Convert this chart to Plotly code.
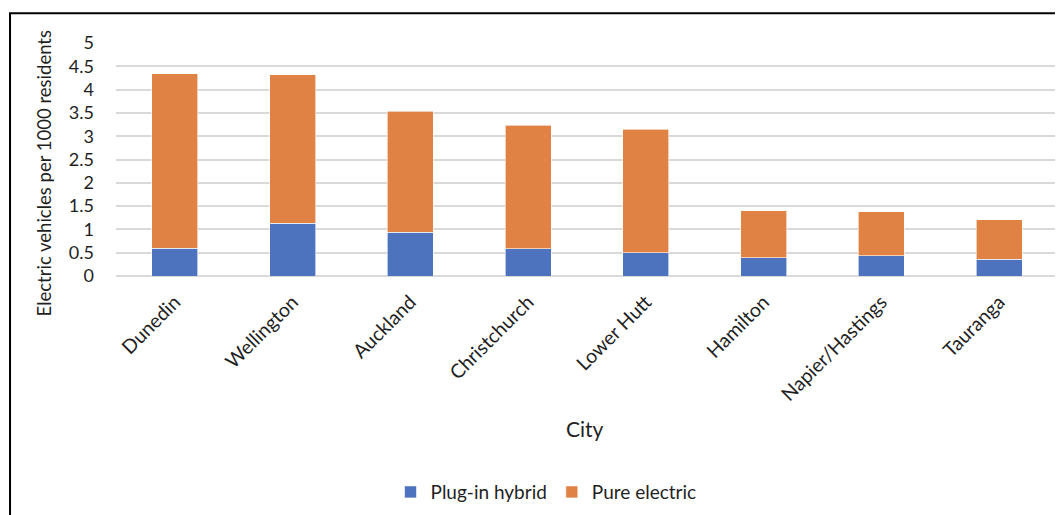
import plotly.graph_objects as go

cities = ["Dunedin", "Wellington", "Auckland", "Christchurch", "Lower Hutt",
          "Hamilton", "Napier/Hastings", "Tauranga"]
plug_in_hybrid = [0.60, 1.13, 0.94, 0.58, 0.50, 0.39, 0.43, 0.36]
pure_electric = [3.74, 3.19, 2.60, 2.66, 2.65, 1.01, 0.95, 0.85]
y_ticks = [0, 0.5, 1, 1.5, 2, 2.5, 3, 3.5, 4, 4.5, 5]
y_tick_labels = ["0", "0.5", "1", "1.5", "2", "2.5", "3", "3.5", "4", "4.5", "5"]

FONT = "Lato"
TXT = "#1F1F1F"

fig = go.Figure()
fig.add_trace(go.Bar(x=cities, y=plug_in_hybrid, name="Plug-in hybrid",
                     marker=dict(color="#4E73BE", line=dict(color="#FFFFFF", width=0.6))))
fig.add_trace(go.Bar(x=cities, y=pure_electric, name="Pure electric",
                     marker=dict(color="#E08244", line=dict(color="#FFFFFF", width=0.6))))

# page body adds an 8px margin, so the figure is sized/offset to compensate
fig.update_layout(
    barmode="stack",
    bargap=0.61,
    width=1055, height=507,
    margin=dict(l=108, r=5, t=35, b=238),
    plot_bgcolor="white", paper_bgcolor="white",
    font=dict(family=FONT, size=16, color=TXT),
    showlegend=True,
    legend=dict(orientation="h", x=0.4565, xanchor="center", y=-0.919, yanchor="middle",
                font=dict(size=19, color=TXT), traceorder="normal", itemwidth=30),
    xaxis=dict(tickangle=-45, showgrid=False, showline=False, ticks="",
               ticklabelstandoff=10,
               tickfont=dict(size=19.5, color=TXT)),
    yaxis=dict(range=[0, 5], tickvals=y_ticks, ticktext=y_tick_labels,
               showgrid=True, gridcolor="#D9D9D9", gridwidth=1.5,
               zeroline=True, zerolinecolor="#D9D9D9", zerolinewidth=1.5,
               showline=False, ticks="", ticklabelstandoff=21,
               tickfont=dict(size=18, color=TXT)),
)

fig.add_annotation(text="Electric vehicles per 1000 residents", textangle=-90,
                   xref="paper", yref="paper", x=-0.0754, y=0.440,
                   xanchor="center", yanchor="middle",
                   showarrow=False, font=dict(size=18.5, color=TXT))
fig.add_annotation(text="City", xref="paper", yref="paper", x=0.498, y=-0.654,
                   xanchor="center", yanchor="middle",
                   showarrow=False, font=dict(size=21, color=TXT))

fig.add_shape(type="rect", xref="paper", yref="paper",
              x0=-0.1125, x1=1.02, y0=-1.05, y1=1.128,
              line=dict(color="black", width=2))

fig.write_html("out.html")
